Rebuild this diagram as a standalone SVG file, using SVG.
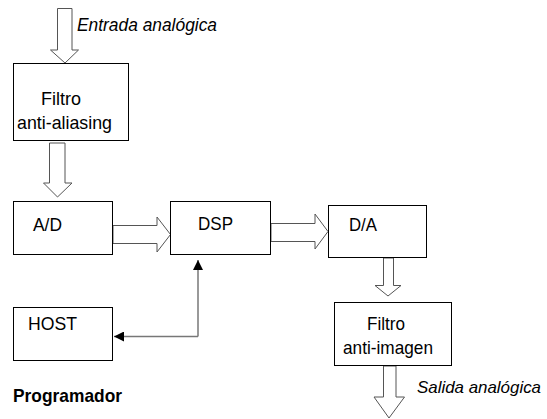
<svg xmlns="http://www.w3.org/2000/svg" width="547" height="419" viewBox="0 0 547 419">
<style>
.box{fill:#fff;stroke:#000;stroke-width:1}
.t{font-family:"Liberation Sans",Arial,sans-serif;font-size:19px;fill:#000}
.it{font-style:italic}
.sm{font-size:16.5px}
.blk{fill:#fff;stroke:#555;stroke-width:1}
.con{fill:none;stroke:#777;stroke-width:1.5}
</style>
<defs>
<marker id="ah" viewBox="0 0 10 10" refX="10" refY="5" markerWidth="10" markerHeight="10" markerUnits="userSpaceOnUse" orient="auto">
<path d="M0,0 L10,5 L0,10 z" fill="#000"/>
</marker>
</defs>
<rect width="547" height="419" fill="#fff"/>
<g id="connectors">
<path class="blk" d="M57.5,8.5 H72 V50 H78.5 L65,63 L50.5,50 H57.5 Z"/>
<path class="blk" d="M49.5,143 H65 V183 H72 L57.5,197 L43.5,183 H49.5 Z"/>
<path class="blk" d="M113,225.5 H157 V217 L170.5,234.5 L157,252 V243.5 H113 Z"/>
<path class="blk" d="M271,223.5 H315 V214 L328,231.5 L315,249 V241.5 H271 Z"/>
<path class="blk" d="M383.5,258 H393.5 V285.5 H401 L388,296 L375,285.5 H383.5 Z"/>
<path class="blk" d="M383.5,366 H396 V397 H404.5 L389,418 L374,397 H383.5 Z"/>
<path class="con" d="M198,336.5 V260" marker-end="url(#ah)"/>
<path class="con" d="M198,336.5 H114" marker-end="url(#ah)"/>
</g>
<g id="filtro-aa">
<rect class="box" x="13.5" y="63.5" width="115" height="77"/>
<text class="t" x="41" y="105" textLength="40" lengthAdjust="spacingAndGlyphs">Filtro</text>
<text class="t" x="17" y="129" textLength="95" lengthAdjust="spacingAndGlyphs">anti-aliasing</text>
</g>
<g id="ad">
<rect class="box" x="13.5" y="201.5" width="99" height="53"/>
<text class="t" x="33" y="231" textLength="29" lengthAdjust="spacingAndGlyphs">A/D</text>
</g>
<g id="dsp">
<rect class="box" x="170.5" y="201.5" width="100" height="53"/>
<text class="t" x="198" y="230" textLength="35" lengthAdjust="spacingAndGlyphs">DSP</text>
</g>
<g id="da">
<rect class="box" x="328.5" y="205.5" width="98" height="52"/>
<text class="t" x="349" y="231" textLength="28" lengthAdjust="spacingAndGlyphs">D/A</text>
</g>
<g id="host">
<rect class="box" x="13.5" y="307.5" width="99" height="53"/>
<text class="t" x="28" y="330" textLength="49" lengthAdjust="spacingAndGlyphs">HOST</text>
</g>
<g id="filtro-ai">
<rect class="box" x="334.5" y="302.5" width="117" height="63"/>
<text class="t" x="367" y="330" textLength="38" lengthAdjust="spacingAndGlyphs">Filtro</text>
<text class="t" x="343" y="354" textLength="90" lengthAdjust="spacingAndGlyphs">anti-imagen</text>
</g>
<g id="labels">
<text class="t it sm" x="417" y="393" textLength="124" lengthAdjust="spacingAndGlyphs">Salida analógica</text>
<text class="t it" x="77" y="31" textLength="140" lengthAdjust="spacingAndGlyphs">Entrada analógica</text>
<text class="t" x="13" y="402" font-weight="bold" textLength="109" lengthAdjust="spacingAndGlyphs">Programador</text>
</g>
</svg>
